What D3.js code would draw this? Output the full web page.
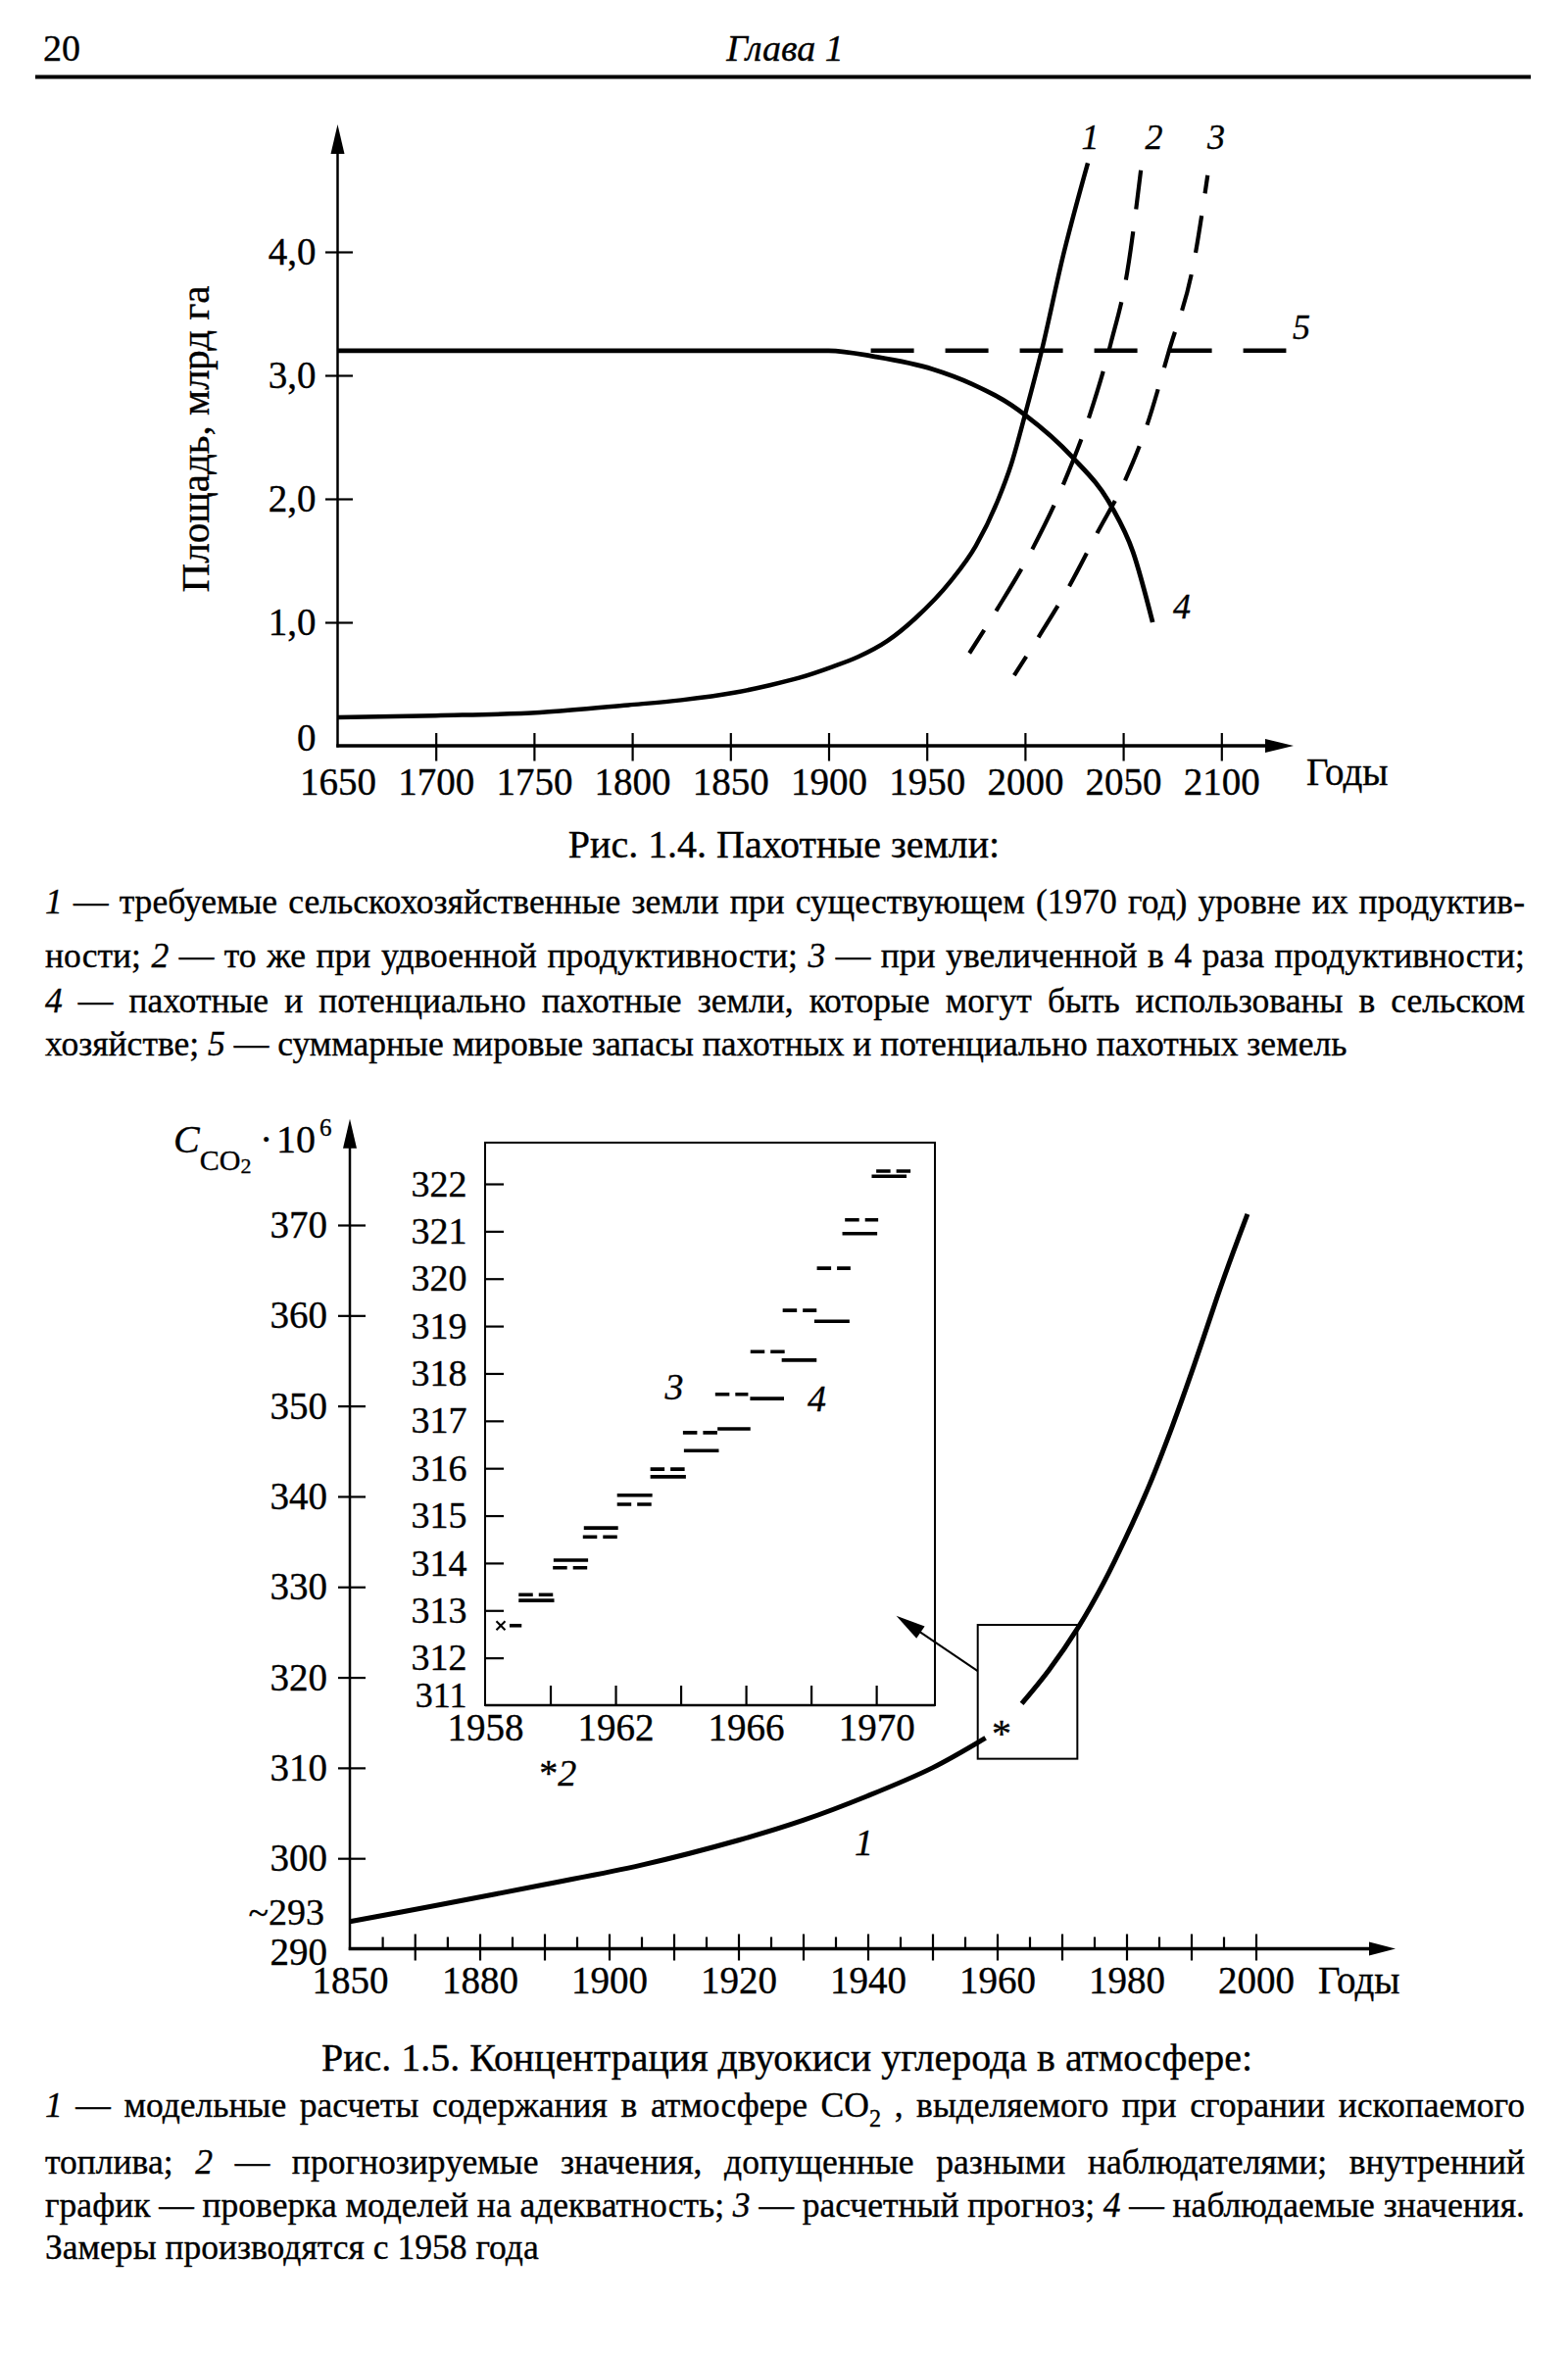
<!DOCTYPE html>
<html><head><meta charset="utf-8">
<script src="https://cdn.jsdelivr.net/npm/d3@7/dist/d3.min.js"></script>
<style>
html,body{margin:0;padding:0;background:#fff;}
svg text{font-family:"Liberation Serif","Times New Roman",serif;fill:#000;stroke:#000;stroke-width:0.35px;}
</style></head><body>
<svg id="page" width="1600" height="2401" viewBox="0 0 1600 2401"></svg>
<script>
// ================= DATA: Рис. 1.4 =================
const fig4YTicks = [0, 1, 2, 3, 4];
const fig4XTicks = [1650, 1700, 1750, 1800, 1850, 1900, 1950, 2000, 2050, 2100];
// 1 — required land at 1970 productivity
const landReq1 = [[1650,0.23],[1700,0.245],[1753,0.27],[1798,0.33],[1825,0.37],[1852,0.43],[1870,0.49],[1885,0.55],[1902,0.64],[1915,0.72],[1930,0.85],[1944,1.03],[1962,1.33],[1975,1.62],[1986,1.98],[1993,2.28],[2000,2.68],[2008.5,3.2],[2019.6,3.98],[2032,4.72]];
// 2 — doubled productivity
const landReq2 = [[1971.7,0.75],[1986,1.11],[2004,1.60],[2019.6,2.12],[2033,2.68],[2043.7,3.26],[2052,3.83],[2059,4.66]];
// 3 — fourfold productivity
const landReq3 = [[1994.5,0.57],[2007.3,0.89],[2022.8,1.30],[2037,1.73],[2050.7,2.14],[2062,2.59],[2073,3.18],[2086.4,3.95],[2093,4.62]];
// 4 — arable and potentially arable land
const landAvail = [[1650,3.2],[1900,3.2],[1924,3.15],[1953,3.05],[1973,2.93],[1993,2.76],[2000,2.68],[2024,2.34],[2044,1.94],[2055,1.57],[2065,1.0]];
// 5 — total world reserves
const landTotal = [[1921.5,3.2],[2133,3.2]];
const fig4LabelText = ["1","2","3","5","4"];
const fig4LabelYear = [2033.2, 2065.7, 2097.4, 2140.8, 2079.9];
const fig4LabelValue = [4.83, 4.83, 4.83, 3.29, 1.03];

// ================= DATA: Рис. 1.5 =================
const fig5YTicks = [290, 300, 310, 320, 330, 340, 350, 360, 370];
const fig5XLabels = [1850, 1880, 1900, 1920, 1940, 1960, 1980, 2000];
const fig5XTickYears = [1857.5,1865,1872.5,1880,1885,1890,1895,1900,1905,1910,1915,1920,1925,1930,1935,1940,1945,1950,1955,1960,1965,1970,1975,1980,1985,1990,1995,2000];
const co2ModelEarly = [[1850,293],[1870,294.8],[1890,297.1],[1905,299.25],[1920,302.0],[1930,304.2],[1940,306.9],[1950,310.0],[1958.2,313.3]];
const co2ModelLate = [[1963.8,317.1],[1968,320.8],[1972.6,325.6],[1976.5,330.5],[1980,335.6],[1983.5,341.2],[1987,347.6],[1990.5,354.6],[1994,362],[1996.5,367],[1998.7,371.2]];
// inset
const insetYTicks = [311,312,313,314,315,316,317,318,319,320,321,322];
const insetXTicks = [1960,1962,1964,1966,1968,1970];
const insetXLabels = [1958,1962,1966,1970];
// 3 — calculated forecast (dashed)
const forecastT0 = [1959.03,1960.08,1961.0,1962.05,1963.07,1964.07,1965.06,1966.14,1967.13,1968.18,1969.04,1970.0];
const forecastT1 = [1960.12,1961.16,1962.08,1963.13,1964.16,1965.17,1966.07,1967.19,1968.17,1969.21,1970.06,1971.06];
const forecastValue = [313.33,313.90,314.55,315.24,315.98,316.75,317.56,318.46,319.33,320.22,321.24,322.27];
// 4 — observed values (solid)
const observedT0 = [1958.75,1959.03,1960.1,1961.03,1962.05,1963.07,1964.1,1965.13,1966.13,1967.1,1968.1,1968.96,1969.86];
const observedT1 = [1959.12,1960.12,1961.16,1962.08,1963.13,1964.16,1965.17,1966.14,1967.17,1968.17,1969.18,1970.03,1970.93];
const observedValue = [312.68,313.21,314.06,314.74,315.43,315.82,316.37,316.83,317.47,318.28,319.10,320.95,322.16];
const firstMeasureYear = 1958.48, firstMeasureValue = 312.68;

// ================= TEXT =================
const leg4Caption = "Рис. 1.4. Пахотные земли:";
const leg4Lines = [
  [{t:"1",it:1},{t:" — требуемые сельскохозяйственные земли при существующем (1970 год) уровне их продуктив-"}],
  [{t:"ности; "},{t:"2",it:1},{t:" — то же при удвоенной продуктивности; "},{t:"3",it:1},{t:" — при увеличенной в 4 раза продуктивности;"}],
  [{t:"4",it:1},{t:" — пахотные и потенциально пахотные земли, которые могут быть использованы в сельском"}],
  [{t:"хозяйстве; "},{t:"5",it:1},{t:" — суммарные мировые запасы пахотных и потенциально пахотных земель"}]
];
const leg5Caption = "Рис. 1.5. Концентрация двуокиси углерода в атмосфере:";
const leg5Lines = [
  [{t:"1",it:1},{t:" — модельные расчеты содержания в атмосфере CO"},{t:"2",sub:1},{t:" , выделяемого при сгорании ископаемого"}],
  [{t:"топлива; "},{t:"2",it:1},{t:" — прогнозируемые значения, допущенные разными наблюдателями; внутренний"}],
  [{t:"график — проверка моделей на адекватность; "},{t:"3",it:1},{t:" — расчетный прогноз; "},{t:"4",it:1},{t:" — наблюдаемые значения."}],
  [{t:"Замеры производятся с 1958 года"}]
];

// ================= DRAWING =================
const svg = d3.select("#page");
svg.append("rect").attr("width",1600).attr("height",2401).attr("fill","#fff");

function arrowHead(g, tx, ty, dx, dy, len, half){
  const n = Math.hypot(dx,dy), ux = dx/n, uy = dy/n;
  const bx = tx-ux*len, by = ty-uy*len, px = -uy, py = ux;
  g.append("path").attr("d",`M${tx},${ty}L${bx+px*half},${by+py*half}L${bx-px*half},${by-py*half}Z`).attr("fill","#000");
}
function styleAxis(sel, size){
  sel.attr("font-size",size).attr("font-family",null);
  sel.select(".domain").remove();
}

// header
svg.append("text").attr("x",44).attr("y",61.5).attr("font-size",38).text("20");
svg.append("text").attr("x",801).attr("y",61.5).attr("font-size",38).attr("font-style","italic").attr("text-anchor","middle").text("Глава 1");
svg.append("line").attr("x1",36).attr("x2",1562).attr("y1",78.5).attr("y2",78.5).attr("stroke","#000").attr("stroke-width",4);

// ---------- Fig 1.4 ----------
const x4 = d3.scaleLinear().domain([1650,2100]).range([344.5,1246.3]);
const y4 = d3.scaleLinear().domain([0,4]).range([761,257]);
const g4 = svg.append("g");
g4.append("line").attr("x1",x4(1650)).attr("x2",x4(1650)).attr("y1",y4(0)+1.5).attr("y2",150).attr("stroke","#000").attr("stroke-width",2.5);
arrowHead(g4, x4(1650), 127, 0, -1, 30, 7);
g4.append("line").attr("x1",x4(1650)-1.2).attr("x2",1300).attr("y1",y4(0)).attr("y2",y4(0)).attr("stroke","#000").attr("stroke-width",3.5);
arrowHead(g4, 1320, y4(0), 1, 0, 29, 7);

const commaFmt = d3.formatLocale({decimal:",",thousands:"\u00a0",grouping:[3],currency:["",""]}).format(".1f");
const ay4 = g4.append("g").attr("transform",`translate(${x4(1650)},0)`)
  .call(d3.axisLeft(y4).tickValues(fig4YTicks).tickSize(12.5).tickPadding(9.5).tickFormat(d => d===0 ? "0" : commaFmt(d)));
styleAxis(ay4, 39);
ay4.selectAll(".tick line").attr("x1",15.5).attr("stroke-width",2.2).style("display", d => d===0 ? "none" : null);
ay4.selectAll(".tick text").attr("y", d => d===0 ? -8 : 0);

const ax4 = g4.append("g").attr("transform",`translate(0,${y4(0)})`)
  .call(d3.axisBottom(x4).tickValues(fig4XTicks).tickSize(15.5).tickPadding(7).tickFormat(d3.format("d")));
styleAxis(ax4, 39);
ax4.selectAll(".tick line").attr("y1",-13).attr("stroke-width",2.2).style("display", d => d===1650 ? "none" : null);

g4.append("text").attr("x",1333).attr("y",801).attr("font-size",39).text("Годы");
g4.append("text").attr("transform","translate(213,448) rotate(-90)").attr("text-anchor","middle").attr("font-size",41).text("Площадь, млрд га");

const line4 = d3.line().x(d=>x4(d[0])).y(d=>y4(d[1])).curve(d3.curveMonotoneX);
g4.append("path").attr("d",line4(landAvail)).attr("fill","none").attr("stroke","#000").attr("stroke-width",4.8);
g4.append("path").attr("d",line4(landTotal)).attr("fill","none").attr("stroke","#000").attr("stroke-width",4.5).attr("stroke-dasharray","44,32");
g4.append("path").attr("d",line4(landReq1)).attr("fill","none").attr("stroke","#000").attr("stroke-width",4.5);
g4.append("path").attr("d",line4(landReq2)).attr("fill","none").attr("stroke","#000").attr("stroke-width",4.2).attr("stroke-dasharray","50,23").attr("stroke-dashoffset",22);
g4.append("path").attr("d",line4(landReq3)).attr("fill","none").attr("stroke","#000").attr("stroke-width",4.2).attr("stroke-dasharray","38,23").attr("stroke-dashoffset",15);
g4.selectAll("text.lab").data(fig4LabelText).join("text").attr("class","lab")
  .attr("x",(d,i)=>x4(fig4LabelYear[i])).attr("y",(d,i)=>y4(fig4LabelValue[i]))
  .attr("text-anchor","middle").attr("font-style","italic").attr("font-size",36).text(d=>d);

// ---------- Fig 1.5 ----------
const x5 = d3.scaleLinear().domain([1850,1880,2000]).range([357,489.5,1281.5]);
const y5 = d3.scaleLinear().domain([290,370]).range([1988.5,1250]);
const g5 = svg.append("g");
g5.append("line").attr("x1",x5(1850)).attr("x2",x5(1850)).attr("y1",y5(290)+1.5).attr("y2",1165).attr("stroke","#000").attr("stroke-width",2.5);
arrowHead(g5, x5(1850), 1141.7, 0, -1, 30, 7);
g5.append("line").attr("x1",x5(1850)-1.2).attr("x2",1405).attr("y1",y5(290)).attr("y2",y5(290)).attr("stroke","#000").attr("stroke-width",3.5);
arrowHead(g5, 1424, y5(290), 1, 0, 27, 7);

const ay5 = g5.append("g").attr("transform",`translate(${x5(1850)},0)`)
  .call(d3.axisLeft(y5).tickValues(fig5YTicks).tickSize(12).tickPadding(11).tickFormat(d3.format("d")));
styleAxis(ay5, 39);
ay5.selectAll(".tick line").attr("x1",16).attr("stroke-width",2.2).style("display", d => d===290 ? "none" : null);
ay5.selectAll(".tick text").attr("y", d => d===290 ? 4 : 0);
g5.append("text").attr("x",331).attr("y",y5(293)-9).attr("dy","0.32em").attr("text-anchor","end").attr("font-size",38).text("~293");

const ax5t = g5.append("g").attr("transform",`translate(0,${y5(290)})`)
  .call(d3.axisBottom(x5).tickValues(fig5XTickYears).tickSize(12).tickFormat(""));
styleAxis(ax5t, 39);
ax5t.selectAll(".tick line").attr("stroke-width",2.2)
  .attr("y1",(d,i)=> i%2===1 ? -15 : -12).attr("y2",(d,i)=> i%2===1 ? 12 : 0);
const ax5l = g5.append("g").attr("transform",`translate(0,${y5(290)})`)
  .call(d3.axisBottom(x5).tickValues(fig5XLabels).tickSize(0).tickPadding(18).tickFormat(d3.format("d")));
styleAxis(ax5l, 39);
g5.append("text").attr("x",1345).attr("y",2034).attr("font-size",39).text("Годы");

// y-axis label C_CO2 · 10^6
const ylab = g5.append("text").attr("y",1176).attr("font-size",40);
ylab.append("tspan").attr("x",177).attr("font-style","italic").text("C");
ylab.append("tspan").attr("font-size",30).attr("dy",18).text("CO");
ylab.append("tspan").attr("font-size",22).attr("dy",3).text("2");
ylab.append("tspan").attr("x",265).attr("dy",-21).attr("font-size",40).text("·");
ylab.append("tspan").attr("x",282).attr("font-size",40).text("10");
ylab.append("tspan").attr("x",326).attr("dy",-17).attr("font-size",25).text("6");

const line5 = d3.line().x(d=>x5(d[0])).y(d=>y5(d[1])).curve(d3.curveCatmullRom.alpha(0.5));
g5.append("path").attr("d",line5(co2ModelEarly)).attr("fill","none").attr("stroke","#000").attr("stroke-width",5);
g5.append("path").attr("d",line5(co2ModelLate)).attr("fill","none").attr("stroke","#000").attr("stroke-width",5);
g5.append("text").attr("x",x5(1937.95)).attr("y",y5(300.35)).attr("font-style","italic").attr("font-size",38).text("1");
const starLab = g5.append("text").attr("x",x5(1889.2)).attr("y",y5(308.07)).attr("font-size",38);
starLab.append("tspan").text("*");
starLab.append("tspan").attr("font-style","italic").text("2");

// zoom box (main-chart data coordinates)
const boxT0 = 1957.0, boxT1 = 1972.4, boxV0 = 311.0, boxV1 = 325.8;
g5.append("rect").attr("x",x5(boxT0)).attr("y",y5(boxV1)).attr("width",x5(boxT1)-x5(boxT0)).attr("height",y5(boxV0)-y5(boxV1))
  .attr("fill","none").attr("stroke","#000").attr("stroke-width",2);
g5.append("text").attr("x",x5(1960.7)).attr("y",y5(314.3)+18).attr("text-anchor","middle").attr("font-size",40).text("*");

// inset
const xi = d3.scaleLinear().domain([1958,1971.8]).range([495,954]);
const yi = d3.scaleLinear().domain([311,322]).range([1740,1208]);
const insetTop = 322.87;
const gi = svg.append("g");
gi.append("rect").attr("x",xi(1958)).attr("y",yi(insetTop)).attr("width",xi(1971.8)-xi(1958)).attr("height",yi(311)-yi(insetTop))
  .attr("fill","#fff").attr("stroke","#000").attr("stroke-width",2);
gi.append("line").attr("x1",xi(1958)).attr("x2",xi(1971.8)).attr("y1",yi(311)).attr("y2",yi(311)).attr("stroke","#000").attr("stroke-width",2.6);
const ayi = gi.append("g").attr("transform",`translate(${xi(1958)},0)`)
  .call(d3.axisLeft(yi).tickValues(insetYTicks).tickSize(-19).tickPadding(18.5).tickFormat(d3.format("d")));
styleAxis(ayi, 38);
ayi.selectAll(".tick line").attr("stroke-width",2.2).style("display", d => d===311 ? "none" : null);
ayi.selectAll(".tick text").attr("y", d => d===311 ? -10 : 0).attr("font-size", d => d===311 ? 36 : null);
const axi = gi.append("g").attr("transform",`translate(0,${yi(311)})`)
  .call(d3.axisBottom(xi).tickValues(insetXTicks).tickSize(-20).tickFormat(""));
styleAxis(axi, 39);
axi.selectAll(".tick line").attr("stroke-width",2.2);
const axil = gi.append("g").attr("transform",`translate(0,${yi(311)})`)
  .call(d3.axisBottom(xi).tickValues(insetXLabels).tickSize(0).tickPadding(8).tickFormat(d3.format("d")));
styleAxis(axil, 39);

gi.selectAll("line.obs").data(observedValue).join("line").attr("class","obs")
  .attr("x1",(d,i)=>xi(observedT0[i])).attr("x2",(d,i)=>xi(observedT1[i]))
  .attr("y1",d=>yi(d)).attr("y2",d=>yi(d)).attr("stroke","#000").attr("stroke-width",3.6);
gi.selectAll("line.fc").data(forecastValue).join("line").attr("class","fc")
  .attr("x1",(d,i)=>xi(forecastT0[i])).attr("x2",(d,i)=>xi(forecastT1[i]))
  .attr("y1",d=>yi(d)).attr("y2",d=>yi(d)).attr("stroke","#000").attr("stroke-width",3.6).attr("stroke-dasharray","14.5,6");
const cx = xi(firstMeasureYear), cy = yi(firstMeasureValue);
gi.append("path").attr("d",`M${cx-4.5},${cy-4.5}L${cx+4.5},${cy+4.5}M${cx-4.5},${cy+4.5}L${cx+4.5},${cy-4.5}`).attr("stroke","#000").attr("stroke-width",2);
gi.append("text").attr("x",xi(1963.8)).attr("y",yi(317.45)).attr("text-anchor","middle").attr("font-style","italic").attr("font-size",38).text("3");
gi.append("text").attr("x",xi(1968.18)).attr("y",yi(317.2)).attr("text-anchor","middle").attr("font-style","italic").attr("font-size",38).text("4");

// arrow from zoom box to inset (drawn on top)
const arFrom = [1957.0, 320.7], arTo = [1944.4, 326.8];
const ga = svg.append("g");
const ax0 = x5(arFrom[0]), ay0 = y5(arFrom[1]), axT = x5(arTo[0]), ayT = y5(arTo[1]);
ga.append("line").attr("x1",ax0).attr("y1",ay0).attr("x2",axT+(ax0-axT)*0.2).attr("y2",ayT+(ay0-ayT)*0.2).attr("stroke","#000").attr("stroke-width",2);
arrowHead(ga, axT, ayT, axT-ax0, ayT-ay0, 30, 7.5);

// ---------- captions & legends ----------
const TL = 46, TR = 1556;
function addPieces(t, pieces, size){
  let shifted = false;
  pieces.forEach(p => {
    const ts = t.append("tspan").text(p.t);
    if (p.it) ts.attr("font-style","italic");
    if (p.sub) { ts.attr("font-size", size*0.68).attr("dy", size*0.28); shifted = true; }
    else if (shifted) { ts.attr("dy", -size*0.28); shifted = false; }
  });
}
function measure(pieces, size){
  const t = svg.append("text").attr("font-size",size).attr("x",0).attr("y",-200);
  addPieces(t, pieces, size);
  const w = t.node().getComputedTextLength();
  t.remove();
  return w;
}
function toWords(pieces){
  const words = []; let cur = [];
  pieces.forEach(p => {
    p.t.split(" ").forEach((part, i) => {
      if (i > 0) { if (cur.length) words.push(cur); cur = []; }
      if (part.length) cur.push(Object.assign({}, p, {t: part}));
    });
  });
  if (cur.length) words.push(cur);
  return words;
}
function drawLine(pieces, y, size, justify){
  const t = svg.append("text").attr("y",y).attr("font-size",size);
  if (!justify) { t.attr("x",TL); addPieces(t, pieces, size); return; }
  const words = toWords(pieces);
  const widths = words.map(w => measure(w, size));
  const gap = (TR - TL - d3.sum(widths)) / (words.length - 1);
  let x = TL, shifted = false;
  words.forEach((w, wi) => {
    w.forEach((p, pi) => {
      const txt = p.t + (pi === w.length-1 && wi < words.length-1 ? " " : "");
      const ts = t.append("tspan").text(txt);
      if (pi === 0) ts.attr("x", x);
      if (p.it) ts.attr("font-style","italic");
      if (p.sub) { ts.attr("font-size", size*0.68).attr("dy", size*0.28); shifted = true; }
      else if (shifted) { ts.attr("dy", -size*0.28); shifted = false; }
    });
    x += widths[wi] + gap;
  });
}
const bodySize = 34 * ( (1326 / measure(leg4Lines[3], 34)) + (505 / measure(leg5Lines[3], 34)) ) / 2;
const capSize = 38 * ( (944 / measure([{t:leg5Caption}], 38)) + (443.5 / measure([{t:leg4Caption}], 38)) ) / 2;

svg.append("text").attr("x",800).attr("y",875).attr("text-anchor","middle").attr("font-size",capSize).text(leg4Caption);
const leg4Y = [932, 987, 1033, 1077];
leg4Lines.forEach((l, i) => drawLine(l, leg4Y[i], bodySize, i < 3));

svg.append("text").attr("x",803).attr("y",2113).attr("text-anchor","middle").attr("font-size",capSize).text(leg5Caption);
const leg5Y = [2160, 2218, 2262, 2305];
leg5Lines.forEach((l, i) => drawLine(l, leg5Y[i], bodySize, i < 3));
</script></body></html>
